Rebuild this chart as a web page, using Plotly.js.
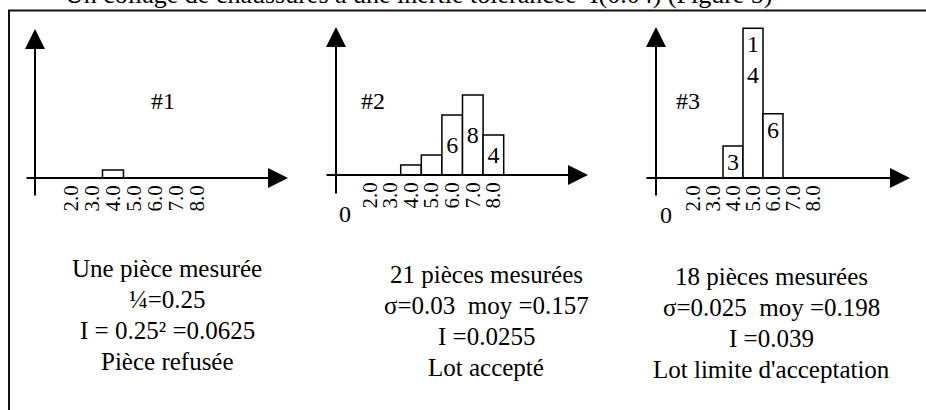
<!DOCTYPE html>
<html>
<head>
<meta charset="utf-8">
<script src="https://cdn.plot.ly/plotly-3.0.1.min.js"></script>
<style>html,body{margin:0;padding:0;background:#fff;}#chart{width:926px;height:410px;}</style>
</head>
<body>
<div id="chart"></div>
<script>
// ---------- DATA ----------
const tickValues = [2, 3, 4, 5, 6, 7, 8];
const tickLabels = ['2.0', '3.0', '4.0', '5.0', '6.0', '7.0', '8.0'];

const classes1 = [4];
const counts1 = [1];
const barLabels1 = [''];

const classes2 = [4, 5, 6, 7, 8];
const counts2 = [1, 2, 6, 8, 4];
const barLabels2 = ['', '', '6', '8', '4'];

const classes3 = [4, 5, 6];
const counts3 = [3, 14, 6];
const barLabels3 = ['3', '14', '6'];

const panelNames = ['#1', '#2', '#3'];
const originLabels = ['', '0', '0'];

const titleText = 'Un collage de chaussures à une inertie tolérancée\u00A0 I(0.04) (Figure 5)';
const notes1 = ['Une pièce mesurée', '¼=0.25', 'I = 0.25² =0.0625', 'Pièce refusée'];
const notes2 = ['21 pièces mesurées', 'σ=0.03\u00A0 moy =0.157', 'I =0.0255', 'Lot accepté'];
const notes3 = ['18 pièces mesurées', 'σ=0.025\u00A0 moy =0.198', 'I =0.039', "Lot limite d'acceptation"];

// ---------- GEOMETRY / STYLE (pixels) ----------
const W = 926, H = 410;
const FONT = 'Liberation Serif';
const panels = [
  {yAxisX: 35,  tipY: 29, bottomY: 197, baseY: 178, left: 25,  tip: 288, ref4X: 113, unitX: 21,   unitY: 8,
   nameX: 163, nameBase: 109, zeroX: null, zeroBase: 0, textAnchor: 'middle'},
  {yAxisX: 336, tipY: 27, bottomY: 195, baseY: 175, left: 325, tip: 588, ref4X: 411,   unitX: 20.6, unitY: 10,
   nameX: 373, nameBase: 109, zeroX: 345, zeroBase: 222, textAnchor: 'middle'},
  {yAxisX: 656, tipY: 27, bottomY: 197, baseY: 178, left: 645, tip: 910, ref4X: 733,   unitX: 20,   unitY: 10.7,
   nameX: 688, nameBase: 109, zeroX: 666, zeroBase: 223, textAnchor: 'end'}
];
const notesGeom = [
  {cx: 167, base: 277},
  {cx: 486, base: 283},
  {cx: 771, base: 285}
];
const LINE = 31;

const px = x => x / W;
const py = y => 1 - y / H;
const wrapDigits = s => s.split('').join('<br>');

const seriesX = [classes1, classes2, classes3];
const seriesY = [counts1, counts2, counts3];
const seriesT = [barLabels1, barLabels2, barLabels3];

const data = [];
const layout = {
  width: W, height: H,
  margin: {l: 0, r: 0, t: 0, b: 0},
  paper_bgcolor: '#fff', plot_bgcolor: 'rgba(0,0,0,0)',
  showlegend: false,
  font: {family: FONT, color: '#000'},
  annotations: [], shapes: []
};

panels.forEach((p, i) => {
  const k = i === 0 ? '' : String(i + 1);
  const xa = 'xaxis' + k, ya = 'yaxis' + k;
  layout[xa] = {
    domain: [px(p.left), px(p.tip)],
    range: [4 + (p.left - p.ref4X) / p.unitX, 4 + (p.tip - p.ref4X) / p.unitX],
    anchor: 'y' + k,
    showline: false, showgrid: false, zeroline: false, ticks: '',
    tickmode: 'array', tickvals: tickValues, ticktext: tickLabels,
    tickangle: -90, ticklabelstandoff: 2,
    tickfont: {family: FONT, size: 21, color: '#000'},
    fixedrange: true
  };
  layout[ya] = {
    domain: [py(p.baseY), py(p.tipY)],
    range: [0, (p.baseY - p.tipY) / p.unitY],
    anchor: 'x' + k,
    showline: false, showgrid: false, zeroline: false,
    showticklabels: false, ticks: '', fixedrange: true
  };
  const labels = seriesT[i].map(s => s.length > 1 ? wrapDigits(s) : s);
  data.push({
    type: 'bar', x: seriesX[i], y: seriesY[i], width: 1,
    xaxis: 'x' + k, yaxis: 'y' + k,
    marker: {color: '#fff', line: {color: '#000', width: 1.5}},
    text: labels, textposition: 'inside', insidetextanchor: p.textAnchor,
    constraintext: 'none', textangle: 0,
    textfont: {family: FONT, size: 24, color: '#000'},
    cliponaxis: false, hoverinfo: 'skip'
  });
  const arrow = (hx, hy, tx, ty) => ({
    xref: 'paper', yref: 'paper', x: px(hx), y: py(hy),
    axref: 'pixel', ayref: 'pixel', ax: tx - hx, ay: ty - hy,
    showarrow: true, arrowhead: 2, arrowsize: 2, arrowwidth: 2,
    arrowcolor: '#000', standoff: 0, text: ''
  });
  layout.annotations.push(arrow(p.yAxisX, p.tipY, p.yAxisX, p.bottomY));
  layout.annotations.push(arrow(p.tip, p.baseY, p.left, p.baseY));
  layout.annotations.push({
    xref: 'paper', yref: 'paper', x: px(p.nameX), y: py(p.nameBase - 8),
    xanchor: 'center', yanchor: 'middle', showarrow: false,
    text: panelNames[i], font: {family: FONT, size: 24, color: '#000'}
  });
  if (originLabels[i]) {
    layout.annotations.push({
      xref: 'paper', yref: 'paper', x: px(p.zeroX), y: py(p.zeroBase - 8),
      xanchor: 'center', yanchor: 'middle', showarrow: false,
      text: originLabels[i], font: {family: FONT, size: 24, color: '#000'}
    });
  }
});

[notes1, notes2, notes3].forEach((lines, i) => {
  const g = notesGeom[i];
  lines.forEach((t, j) => {
    layout.annotations.push({
      xref: 'paper', yref: 'paper', x: px(g.cx), y: py(g.base + j * LINE - 9),
      xanchor: 'center', yanchor: 'middle', showarrow: false,
      text: t, font: {family: FONT, size: 25, color: '#000'}
    });
  });
});

layout.annotations.push({
  xref: 'paper', yref: 'paper', x: px(63), y: py(4 - 9),
  xanchor: 'left', yanchor: 'middle', showarrow: false,
  text: titleText, font: {family: FONT, size: 26, color: '#000'}
});

layout.shapes.push({type: 'line', xref: 'paper', yref: 'paper', x0: px(9), x1: px(9), y0: py(10), y1: py(H + 5), line: {color: '#111', width: 2}});
layout.shapes.push({type: 'line', xref: 'paper', yref: 'paper', x0: px(8), x1: px(W + 5), y0: py(10.5), y1: py(10.5), line: {color: '#111', width: 2}});

Plotly.newPlot('chart', data, layout, {staticPlot: true, displayModeBar: false});
</script>
</body>
</html>
